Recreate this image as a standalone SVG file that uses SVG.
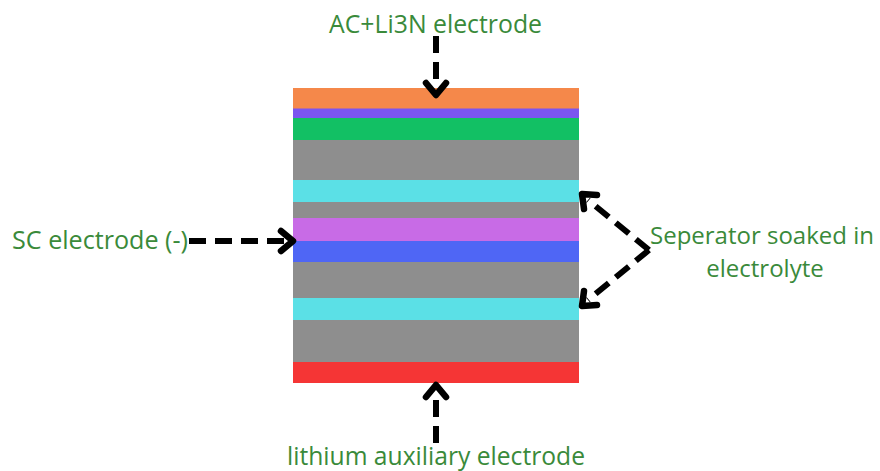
<svg xmlns="http://www.w3.org/2000/svg" width="880" height="471" viewBox="0 0 880 471">
<style>
.lbl{font-family:"Open Sans","Liberation Sans",sans-serif;font-size:25px;fill:#3a8a3a}
.sm{font-size:24px}
.dash{fill:none;stroke:#000;stroke-width:6;stroke-dasharray:17 9}
.head{fill:none;stroke:#000;stroke-width:6.5;stroke-linecap:round;stroke-linejoin:round}
</style>
<rect width="880" height="471" fill="#fff"/>
<g id="stack">
<rect x="293" y="88" width="286" height="21" fill="#f5884a"/>
<rect x="293" y="108.5" width="286" height="10" fill="#7b55f0"/>
<rect x="293" y="118" width="286" height="22" fill="#12c064"/>
<rect x="293" y="140" width="286" height="40" fill="#8e8e8e"/>
<rect x="293" y="180" width="286" height="22" fill="#5be0e6"/>
<rect x="293" y="202" width="286" height="16" fill="#8e8e8e"/>
<rect x="293" y="218" width="286" height="23" fill="#c86be6"/>
<rect x="293" y="241" width="286" height="21" fill="#4f66f5"/>
<rect x="293" y="262" width="286" height="36" fill="#8e8e8e"/>
<rect x="293" y="298" width="286" height="22" fill="#5be0e6"/>
<rect x="293" y="320" width="286" height="42" fill="#8e8e8e"/>
<rect x="293" y="362" width="286" height="21" fill="#f53535"/>
</g>
<g id="label-top"><text class="lbl" x="329" y="33" textLength="213" lengthAdjust="spacingAndGlyphs">AC+Li3N electrode</text></g>
<g id="label-left"><text class="lbl" x="12" y="249" textLength="176" lengthAdjust="spacingAndGlyphs">SC electrode (-)</text></g>
<g id="label-right"><text class="lbl sm" x="650" y="244">Seperator soaked in</text><text class="lbl sm" x="765" y="277" text-anchor="middle">electrolyte</text></g>
<g id="label-bottom"><text class="lbl" x="287" y="465" textLength="298" lengthAdjust="spacingAndGlyphs">lithium auxiliary electrode</text></g>
<g id="connectors">
<path class="dash" d="M436 36V88"/>
<polyline class="head" points="426,83 436,95 446,83"/>
<path class="dash" d="M436 443V392"/>
<polyline class="head" points="426,397 436,385 446,397"/>
<path class="dash" d="M189 241H287"/>
<polyline class="head" points="281,231 293,241 281,251"/>
<path class="dash" d="M649 250L588 200"/>
<polyline class="head" points="584,209 582,194 597,195"/>
<path class="dash" d="M649 250L588 300"/>
<polyline class="head" points="584,291 582,306 597,305"/>
</g>
</svg>
